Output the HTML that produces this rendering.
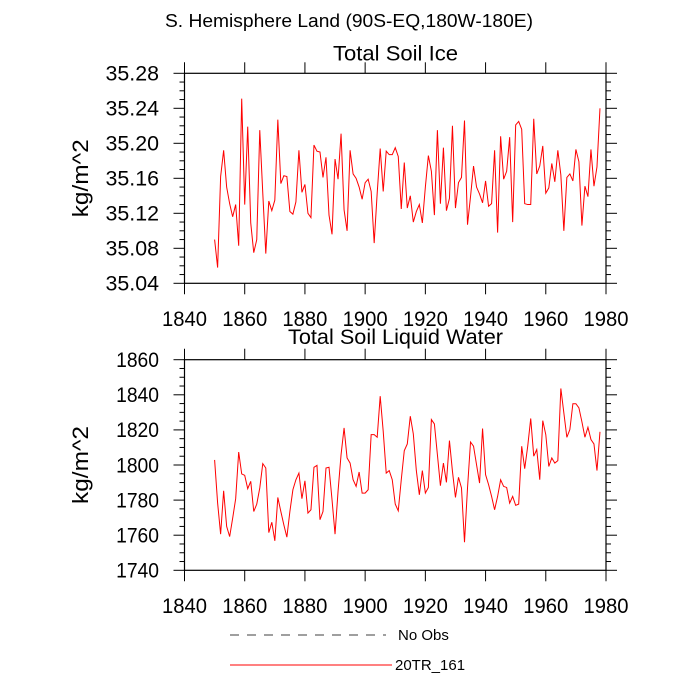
<!DOCTYPE html>
<html><head><meta charset="utf-8"><style>
body{margin:0;background:#fff}
svg{display:block;font-family:"Liberation Sans",sans-serif}
</style></head><body>
<svg id="c" width="700" height="700" viewBox="0 0 700 700"></svg>
<script>
const startYear = 1850;
const iceValues = [35.090,35.058,35.162,35.192,35.150,35.131,35.116,35.130,35.083,35.251,
35.130,35.219,35.109,35.075,35.090,35.215,35.143,35.074,35.134,35.123,
35.135,35.227,35.154,35.163,35.162,35.122,35.119,35.133,35.192,35.144,
35.153,35.120,35.115,35.198,35.191,35.190,35.161,35.184,35.118,35.096,
35.182,35.159,35.211,35.124,35.100,35.192,35.165,35.160,35.150,35.136,
35.155,35.159,35.145,35.086,35.143,35.194,35.145,35.191,35.187,
35.187,35.195,35.185,35.125,35.178,35.126,35.140,35.110,35.122,35.130,
35.109,35.150,35.186,35.168,35.118,35.215,35.131,35.195,35.123,35.137,
35.220,35.126,35.155,35.161,35.226,35.107,35.139,35.174,35.150,35.142,
35.132,35.157,35.128,35.131,35.192,35.098,35.208,35.159,35.168,35.207,
35.110,35.221,35.225,35.216,35.131,35.130,35.130,35.228,35.165,35.174,
35.197,35.143,35.149,35.177,35.156,35.192,35.164,35.100,35.161,35.165,
35.157,35.193,35.179,35.106,35.151,35.139,35.193,35.151,35.173,35.240];
const liqValues = [1802.9,1778.3,1760.6,1785.3,1765.0,1759.2,1769.7,1780.8,1807.4,1794.9,
1794.1,1786.5,1790.7,1773.5,1777.7,1786.9,1800.8,1798.3,1761.5,1767.4,
1756.8,1781.5,1773.5,1765.9,1758.9,1773.5,1785.9,1791.6,1795.4,1780.8,
1791.0,1772.6,1774.5,1798.7,1799.8,1768.8,1773.5,1798.3,1798.7,1780.2,
1760.6,1785.0,1805.9,1821.1,1804.0,1801.1,1791.6,1787.8,1796.0,1784.0,
1784.0,1785.9,1817.3,1817.3,1815.8,1839.2,1819.2,1795.4,1796.8,
1791.6,1777.7,1773.9,1791.6,1808.2,1812.0,1827.8,1817.7,1796.8,1783.0,
1796.8,1784.0,1787.2,1825.9,1823.4,1805.9,1788.2,1801.1,1790.1,1813.9,
1796.4,1781.5,1793.0,1786.9,1756.0,1786.9,1813.1,1810.7,1800.2,1789.7,
1820.8,1794.5,1788.8,1782.1,1774.5,1782.1,1791.6,1787.8,1787.2,1778.3,
1782.1,1777.0,1777.7,1810.7,1797.9,1810.7,1826.5,1805.0,1808.8,1791.6,
1825.3,1817.3,1799.2,1804.0,1801.1,1802.5,1843.6,1829.7,1815.8,1820.2,
1834.9,1834.9,1832.6,1824.6,1815.8,1821.5,1814.5,1812.0,1796.8,1818.9];
const xTicks = [1840,1860,1880,1900,1920,1940,1960,1980];
const iceTicks = ["35.04","35.08","35.12","35.16","35.20","35.24","35.28"];
const liqTicks = ["1740","1760","1780","1800","1820","1840","1860"];

const NS="http://www.w3.org/2000/svg", svg=document.getElementById('c');
function mk(t,a,p){const e=document.createElementNS(NS,t);for(const k in a)e.setAttribute(k,a[k]);(p||svg).appendChild(e);return e;}
const X0=184.5,X1=606;
const xs=yr=>X0+(yr-1840)/140*(X1-X0);

function panel(name,title,titleY,titleLen,top,bot,ticks,vals,minorStep){
  const g=mk('g',{});
  
  
  const lo=+ticks[0],hi=+ticks[ticks.length-1];
  const ys=v=>bot-(v-lo)/(hi-lo)*(bot-top);
  const fr=mk('rect',{x:X0,y:top,width:X1-X0,height:bot-top,fill:'none',stroke:'#000','stroke-width':1.2},g);
  
  
  for(let v=lo;v<=hi+1e-9;v+=minorStep){
    const isMaj=ticks.some(t=>Math.abs(+t-v)<1e-6);
    const L=isMaj?11:5;
    mk('line',{x1:X0-L,x2:X0,y1:ys(v),y2:ys(v),stroke:'#000','stroke-width':1},g);
    mk('line',{x1:X1,x2:X1+L,y1:ys(v),y2:ys(v),stroke:'#000','stroke-width':1},g);
  }
  ticks.forEach(t=>{
    const tx=mk('text',{x:159,y:ys(+t)+7.3,'font-size':21,'text-anchor':'end',textLength:t.length*10.6+0.5,lengthAdjust:'spacingAndGlyphs'},g);
    tx.textContent=t;
    
    
  });
  xTicks.forEach(t=>{
    mk('line',{x1:xs(t),x2:xs(t),y1:top-11,y2:top,stroke:'#000','stroke-width':1},g);
    mk('line',{x1:xs(t),x2:xs(t),y1:bot,y2:bot+11,stroke:'#000','stroke-width':1},g);
    const tx=mk('text',{x:xs(t),y:bot+42.5,'font-size':21,'text-anchor':'middle',textLength:45,lengthAdjust:'spacingAndGlyphs'},g);
    tx.textContent=t;
    
    
  });
  const tt=mk('text',{x:395.5,y:titleY,'font-size':21,'text-anchor':'middle',textLength:titleLen,lengthAdjust:'spacingAndGlyphs'},g);
  tt.textContent=title;
  
  
  const yc=(top+bot)/2;
  const yl=mk('text',{x:88,y:yc,'font-size':22,'text-anchor':'middle',textLength:78,lengthAdjust:'spacingAndGlyphs',transform:`rotate(-90 88 ${yc})`},g);
  yl.textContent='kg/m^2';
  
  
  const pts=vals.map((v,i)=>xs(startYear+i).toFixed(2)+','+ys(v).toFixed(2)).join(' ');
  const ln=mk('polyline',{points:pts,fill:'none',stroke:'#ff0000','stroke-width':1},g);
  
  
}
panel('ice-panel','Total Soil Ice',60.7,125,73.3,283.3,iceTicks,iceValues,0.01);
panel('liquid-panel','Total Soil Liquid Water',344,215,359.7,570.3,liqTicks,liqValues,5);

const mt=mk('text',{x:349,y:27,'font-size':18,'text-anchor':'middle',textLength:368,lengthAdjust:'spacingAndGlyphs'});
mt.textContent='S. Hemisphere Land (90S-EQ,180W-180E)';



const l1=mk('line',{x1:230,x2:386,y1:635,y2:635,stroke:'#000','stroke-width':0.8,'stroke-dasharray':'9,8'});


const t1=mk('text',{x:398,y:640,'font-size':15});
t1.textContent='No Obs';


const l2=mk('line',{x1:230,x2:392,y1:665,y2:665,stroke:'#ff0000','stroke-width':1});


const t2=mk('text',{x:395,y:670,'font-size':15});
t2.textContent='20TR_161';


</script>
</body></html>
